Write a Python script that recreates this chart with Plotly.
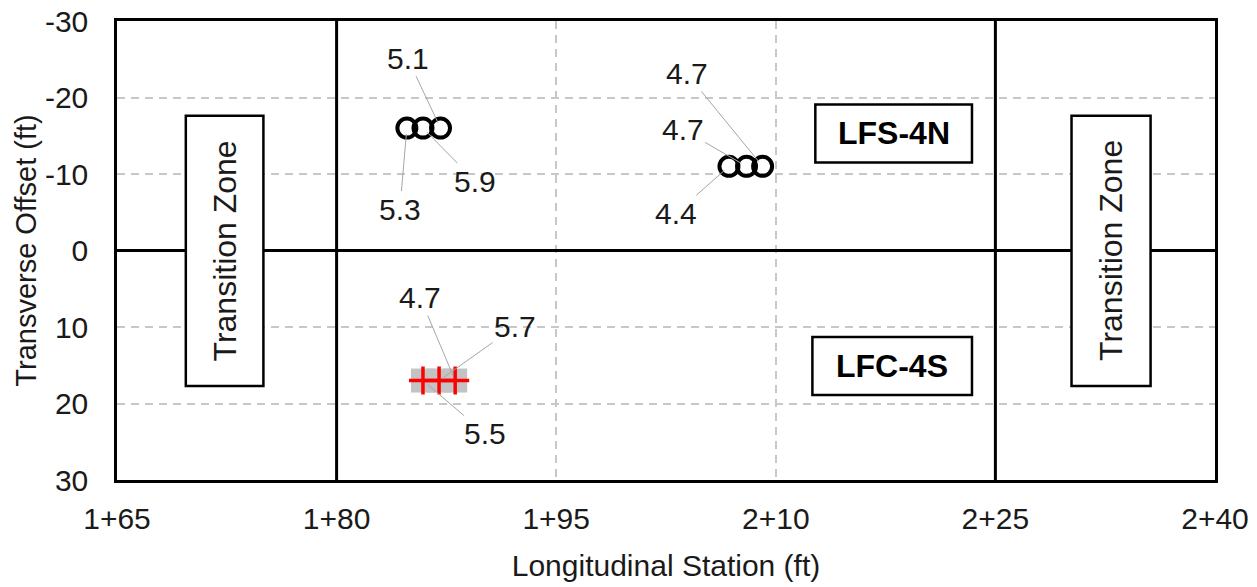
import plotly.graph_objects as go

# ---------------- data ----------------
x_ticks = [165, 180, 195, 210, 225, 240]
x_tick_labels = ["1+65", "1+80", "1+95", "2+10", "2+25", "2+40"]
y_ticks = [-30, -20, -10, 0, 10, 20, 30]
y_tick_labels = ["-30", "-20", "-10", "0", "10", "20", "30"]

# LFS-4N group 1 (open circles)
g1_x = [184.8, 185.9, 187.1]
g1_y = [-16, -16, -16]
g1_labels = ["5.3", "5.9", "5.1"]

# LFS-4N group 2 (open circles)
g2_x = [206.8, 208.0, 209.1]
g2_y = [-11, -11, -11]
g2_labels = ["4.4", "4.7", "4.7"]

# LFC-4S group (red crosses)
g3_x = [185.9, 187.0, 188.1]
g3_y = [17, 17, 17]
g3_labels = ["5.5", "5.7", "4.7"]

# zone boundaries and boxes
zone_bounds = [180, 225]
transition_boxes = [(169.7, 175.0, -17.6, 17.7), (230.2, 235.6, -17.6, 17.7)]
section_boxes = [("LFS-4N", 212.7, 223.4, -19.1, -11.5), ("LFC-4S", 212.5, 223.4, 11.3, 18.9)]

# label offsets (pixels) for leader-line labels
g1_off = [(-7, 81), (52, 53), (-33, -70)]
g2_off = [(-53, 47), (-64, -37), (-76, -93)]
g3_off = [(62, 53), (76, -54), (-35, -83)]

FONT = "Liberation Sans, Arial, sans-serif"
TXT = "#1a1a1a"

fig = go.Figure()

fig.add_trace(go.Scatter(x=g1_x + g2_x, y=g1_y + g2_y, mode="markers",
                         marker=dict(symbol="circle-open", size=19,
                                     line=dict(color="black", width=4), color="black"),
                         showlegend=False, hoverinfo="skip"))
fig.add_trace(go.Scatter(x=g3_x, y=g3_y, mode="markers",
                         marker=dict(symbol="square", size=24, color="#c3c3c3"),
                         showlegend=False, hoverinfo="skip"))
fig.add_trace(go.Scatter(x=g3_x, y=g3_y, mode="markers",
                         marker=dict(symbol="cross-thin", size=20,
                                     line=dict(color="#ff0000", width=3.5)),
                         showlegend=False, hoverinfo="skip"))

annotations = []
for xs, ys, labs, offs in [(g1_x, g1_y, g1_labels, g1_off),
                           (g2_x, g2_y, g2_labels, g2_off),
                           (g3_x, g3_y, g3_labels, g3_off)]:
    for xv, yv, lab, (dx, dy) in zip(xs, ys, labs, offs):
        annotations.append(dict(x=xv, y=yv, xref="x", yref="y", text=lab,
                                showarrow=True, arrowhead=0, arrowwidth=1,
                                arrowcolor="#a6a6a6", ax=dx, ay=dy, standoff=6,
                                font=dict(size=30, color=TXT, family=FONT)))

shapes = []
for xb in zone_bounds:
    shapes.append(dict(type="line", xref="x", yref="paper", x0=xb, x1=xb, y0=0, y1=1,
                       line=dict(color="black", width=3), layer="above"))
shapes.append(dict(type="line", xref="paper", yref="y", x0=0, x1=1, y0=0, y1=0,
                   line=dict(color="black", width=3), layer="above"))
for (x0, x1, y0, y1) in transition_boxes:
    shapes.append(dict(type="rect", xref="x", yref="y", x0=x0, x1=x1, y0=y0, y1=y1,
                       fillcolor="white", line=dict(color="black", width=2.5), layer="above"))
    annotations.append(dict(x=(x0 + x1) / 2, y=(y0 + y1) / 2, xref="x", yref="y",
                            text="Transition Zone", textangle=-90, showarrow=False,
                            font=dict(size=32, color=TXT, family=FONT)))
for (txt, x0, x1, y0, y1) in section_boxes:
    shapes.append(dict(type="rect", xref="x", yref="y", x0=x0, x1=x1, y0=y0, y1=y1,
                       fillcolor="white", line=dict(color="black", width=2.5), layer="above"))
    annotations.append(dict(x=(x0 + x1) / 2, y=(y0 + y1) / 2, xref="x", yref="y",
                            text="<b>" + txt + "</b>", showarrow=False,
                            font=dict(size=32, color="black", family=FONT)))

fig.update_layout(
    width=1257, height=587,
    margin=dict(l=117, r=42, t=21, b=107),
    paper_bgcolor="white", plot_bgcolor="white",
    font=dict(family=FONT, color=TXT),
    shapes=shapes, annotations=annotations,
    xaxis=dict(range=[165, 240], tickvals=x_ticks, ticktext=x_tick_labels,
               showgrid=True, gridcolor="#c8c8c8", gridwidth=2, griddash="8px,6px",
               showline=True, linecolor="black", linewidth=2.5, mirror=True,
               zeroline=False, ticks="", ticklabelstandoff=10, automargin=False,
               tickfont=dict(size=30, color=TXT),
               title=dict(text="Longitudinal Station (ft)", font=dict(size=30, color=TXT),
                          standoff=22)),
    yaxis=dict(range=[30, -30], tickvals=y_ticks, ticktext=y_tick_labels,
               showgrid=True, gridcolor="#c8c8c8", gridwidth=2, griddash="8px,6px",
               showline=True, linecolor="black", linewidth=2.5, mirror=True,
               zeroline=False, ticks="", ticklabelstandoff=20, automargin=False,
               tickfont=dict(size=30, color=TXT),
               title=dict(text="Transverse Offset (ft)", font=dict(size=29, color=TXT),
                          standoff=0)),
)

fig.write_html("out.html")
